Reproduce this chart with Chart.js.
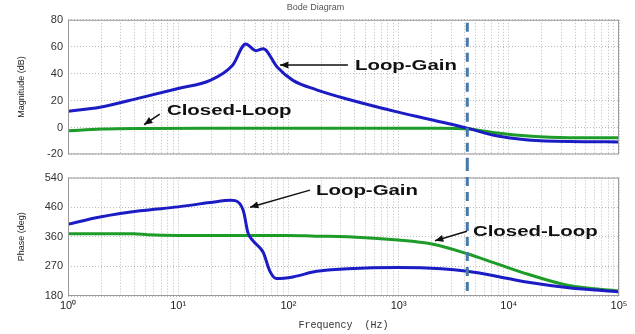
<!DOCTYPE html>
<html>
<head>
<meta charset="utf-8">
<script src="https://cdn.jsdelivr.net/npm/chart.js@4/dist/chart.umd.min.js"></script>
<style>
  body { margin: 0; background: #fff; }
  #wrap { position: relative; width: 635px; height: 334px; }
  canvas { position: absolute; left: 0; }
</style>
</head>
<body>
<div id="wrap">
  <canvas id="mag" width="635" height="166" style="top:0"></canvas>
  <canvas id="phase" width="635" height="168" style="top:166px"></canvas>
</div>
<script>
// frequencies (Hz)
var freqLoop = [1, 1.95, 4.5, 10, 19.5, 31, 41, 51, 59, 79, 110, 180, 347, 990, 2800, 4200, 7500, 15000, 35000, 100000];
var magLoop  = [12, 15, 22, 29, 35, 46, 62, 57, 58.5, 45, 35, 28, 21, 11.4, 3, -0.5, -6, -9.3, -10.5, -10.7];

var freqClosedMag = [1, 2, 5, 20, 100, 500, 2450, 4200, 7500, 15000, 35000, 100000];
var magClosed     = [-2.4, -1.2, -0.7, -0.5, -0.5, -0.5, -0.5, -1, -4, -6.4, -7.6, -7.6];

var freqLoopPh = [1, 1.95, 4.5, 10, 19.5, 30, 33, 39, 43, 48, 59, 68, 78, 110, 180, 347, 990, 2450, 4200, 7500, 15000, 35000, 100000];
var phaseLoop  = [398, 420, 439, 451, 464, 471, 470, 439, 372, 347, 313, 255, 233, 238, 255, 263, 267, 263, 255, 241, 221.5, 205, 192.5];

var freqClosedPh = [1, 4, 5.3, 10, 100, 175, 347, 990, 2000, 4200, 7500, 15000, 35000, 100000];
var phaseClosed  = [369, 369, 366, 364, 364, 362, 360, 350, 338, 308.6, 280, 246, 212, 195];

var magTicks = [-20, 0, 20, 40, 60, 80];
var phaseTicks = [180, 270, 360, 450, 540];
var phaseTickLabels = ['180', '270', '360', '460', '540'];
var decadeLabels = {1: '10\u2070', 10: '10\u00b9', 100: '10\u00b2', 1000: '10\u00b3', 10000: '10\u2074', 100000: '10\u2075'};

var crossover = 4200;

// annotations: [text, textFreq, textVal, tailFreq, tailVal, headFreq, headVal]
var magNotes = [
  ['Loop-Gain', 402, 46.4, 347, 46.4, 84, 46.4],
  ['Closed-Loop', 7.9, 12.9, 6.8, 10, 4.9, 2.1]
];
var phaseNotes = [
  ['Loop-Gain', 178, 502, 157, 502, 44.9, 450],
  ['Closed-Loop', 4730, 377, 4170, 377, 2140, 348]
];

var blue = 'rgb(28, 28, 196)';
var green = 'rgb(30, 156, 42)';
var gridColor = 'rgba(140,140,140,0.6)';

function pts(xs, ys) {
  return xs.map(function(x, i) { return {x: x, y: ys[i]}; });
}

function logTicks(scale) {
  var t = [];
  for (var e = 0; e < 5; e++) {
    for (var s = 1; s < 10; s++) t.push({value: s * Math.pow(10, e)});
  }
  t.push({value: 100000});
  scale.ticks = t;
}

var notesPlugin = {
  id: 'notes',
  afterDatasetsDraw: function(chart, args, opts) {
    var ctx = chart.ctx;
    var xs = chart.scales.x, ys = chart.scales.y;
    var a = chart.chartArea;
    // plot frame
    ctx.save();
    ctx.strokeStyle = '#9a9a9a';
    ctx.lineWidth = 1;
    ctx.strokeRect(a.left + 0.5, a.top + 0.5, a.right - a.left - 1, a.bottom - a.top - 1);
    // crossover dashed line, running across the gap between the two plots
    var cx = xs.getPixelForValue(crossover);
    ctx.strokeStyle = 'rgb(70, 120, 170)';
    ctx.lineWidth = 3;
    ctx.setLineDash([9, 6]);
    ctx.beginPath();
    if (opts.upper) {
      ctx.moveTo(cx, a.top + 3);
      ctx.lineTo(cx, chart.height);
    } else {
      ctx.lineDashOffset = 4;
      ctx.moveTo(cx, 0);
      ctx.lineTo(cx, a.bottom);
    }
    ctx.stroke();
    ctx.setLineDash([]);
    // annotations
    (opts.notes || []).forEach(function(n) {
      var tx = xs.getPixelForValue(n[1]), ty = ys.getPixelForValue(n[2]);
      var x0 = xs.getPixelForValue(n[3]), y0 = ys.getPixelForValue(n[4]);
      var x1 = xs.getPixelForValue(n[5]), y1 = ys.getPixelForValue(n[6]);
      ctx.strokeStyle = '#111';
      ctx.fillStyle = '#111';
      ctx.lineWidth = 1.5;
      ctx.beginPath();
      ctx.moveTo(x0, y0);
      ctx.lineTo(x1, y1);
      ctx.stroke();
      var ang = Math.atan2(y1 - y0, x1 - x0);
      ctx.beginPath();
      ctx.moveTo(x1, y1);
      ctx.lineTo(x1 - 9 * Math.cos(ang - 0.4), y1 - 9 * Math.sin(ang - 0.4));
      ctx.lineTo(x1 - 9 * Math.cos(ang + 0.4), y1 - 9 * Math.sin(ang + 0.4));
      ctx.closePath();
      ctx.fill();
      ctx.save();
      ctx.translate(tx, ty);
      ctx.scale(1.36, 1);
      ctx.font = 'bold 15px "Liberation Sans", Arial, sans-serif';
      ctx.textBaseline = 'middle';
      ctx.textAlign = 'left';
      ctx.fillText(n[0], 0, 1);
      ctx.restore();
    });
    ctx.restore();
  }
};

function yAxisFit(scale) { scale.width = 56; }

var tickFont = {family: '"Liberation Sans", Arial, sans-serif', size: 11};

var magChart = new Chart(document.getElementById('mag'), {
  type: 'line',
  data: {
    datasets: [
      {data: pts(freqLoop, magLoop), borderColor: blue, borderWidth: 3, pointRadius: 0, cubicInterpolationMode: 'monotone'},
      {data: pts(freqClosedMag, magClosed), borderColor: green, borderWidth: 3, pointRadius: 0, cubicInterpolationMode: 'monotone'}
    ]
  },
  options: {
    responsive: false,
    animation: false,
    layout: {padding: {left: 12, right: 16, top: 0, bottom: 6}},
    plugins: {
      legend: {display: false},
      tooltip: {enabled: false},
      title: {display: true, text: 'Bode Diagram', color: '#555', font: {family: '"Liberation Sans", Arial, sans-serif', size: 9, weight: 'normal'}, padding: {top: 2, bottom: 7}},
      notes: {notes: magNotes, upper: true}
    },
    scales: {
      x: {
        type: 'logarithmic', min: 1, max: 100000,
        afterBuildTicks: logTicks,
        afterFit: function(s) { s.height = 0; },
        ticks: {display: false},
        grid: {color: gridColor, drawTicks: false},
        border: {display: false, dash: [1, 2]}
      },
      y: {
        min: -20, max: 80,
        afterBuildTicks: function(s) { s.ticks = magTicks.map(function(v) { return {value: v}; }); },
        afterFit: yAxisFit,
        ticks: {color: '#333', font: tickFont, padding: 5},
        title: {display: true, text: 'Magnitude (dB)', color: '#222', font: {family: '"Liberation Sans", Arial, sans-serif', size: 9}, padding: {top: 4, bottom: 0}},
        grid: {color: gridColor, drawTicks: false},
        border: {display: false, dash: [1, 2]}
      }
    }
  },
  plugins: [notesPlugin]
});

var phaseChart = new Chart(document.getElementById('phase'), {
  type: 'line',
  data: {
    datasets: [
      {data: pts(freqLoopPh, phaseLoop), borderColor: blue, borderWidth: 3, pointRadius: 0, cubicInterpolationMode: 'monotone'},
      {data: pts(freqClosedPh, phaseClosed), borderColor: green, borderWidth: 3, pointRadius: 0, cubicInterpolationMode: 'monotone'}
    ]
  },
  options: {
    responsive: false,
    animation: false,
    layout: {padding: {left: 12, right: 16, top: 6, bottom: 0}},
    plugins: {
      legend: {display: false},
      tooltip: {enabled: false},
      notes: {notes: phaseNotes, upper: false}
    },
    scales: {
      x: {
        type: 'logarithmic', min: 1, max: 100000,
        afterBuildTicks: logTicks,
        afterFit: function(s) { s.height = 38; },
        ticks: {
          color: '#222', font: tickFont, padding: 3, autoSkip: false, maxRotation: 0,
          callback: function(v) { return decadeLabels[v] || ''; }
        },
        title: {display: true, text: 'Frequency  (Hz)', color: '#333', font: {family: '"Liberation Mono", monospace', size: 10}, padding: {top: 0, bottom: 3}},
        grid: {color: gridColor, drawTicks: false},
        border: {display: false, dash: [1, 2]}
      },
      y: {
        min: 180, max: 540,
        afterBuildTicks: function(s) { s.ticks = phaseTicks.map(function(v) { return {value: v}; }); },
        afterFit: yAxisFit,
        ticks: {
          color: '#333', font: tickFont, padding: 5,
          callback: function(v) { return phaseTickLabels[phaseTicks.indexOf(v)]; }
        },
        title: {display: true, text: 'Phase (deg)', color: '#222', font: {family: '"Liberation Sans", Arial, sans-serif', size: 9}, padding: {top: 4, bottom: 0}},
        grid: {color: gridColor, drawTicks: false},
        border: {display: false, dash: [1, 2]}
      }
    }
  },
  plugins: [notesPlugin]
});
</script>
</body>
</html>
